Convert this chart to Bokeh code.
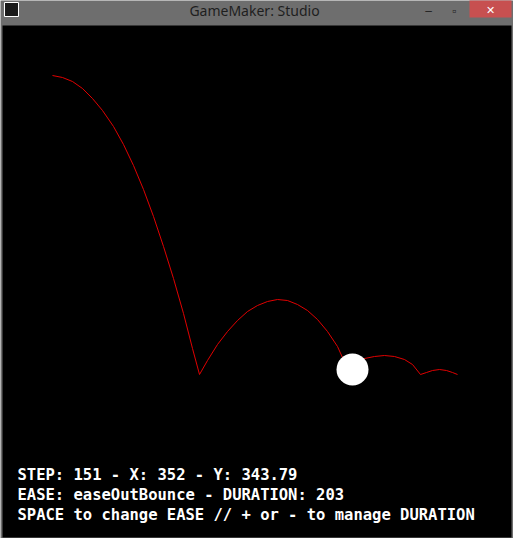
from bokeh.plotting import figure
from bokeh.models import Range1d
from bokeh.embed import file_html
from bokeh.resources import INLINE
from bokeh.core.properties import value

# Curve points (screen pixel coordinates)
curve_x = [60, 70, 80, 90, 100, 110, 121, 131, 141, 151, 161, 171, 181, 191, 200, 207,
           215, 225, 235, 245, 255, 265, 275, 285, 295, 305, 315, 325, 335, 345, 354,
           362, 372, 382, 392, 402, 412, 420, 428, 434, 440, 447, 454, 460, 465]
curve_y = [83, 85, 89, 96, 106, 118, 134, 152, 173, 197, 224, 254, 286, 321, 356, 382,
           368, 352, 339, 328, 319, 313, 309, 307, 308, 312, 318, 327, 339, 354, 374,
           369, 366, 364, 363, 364, 367, 372, 382, 380, 378, 377, 378, 380, 382]
ball = (360, 377)
hud_lines = ["STEP: 151 - X: 352 - Y: 343.79",
             "EASE: easeOutBounce - DURATION: 203",
             "SPACE to change EASE // + or - to manage DURATION"]
title = "GameMaker: Studio"

p = figure(width=513, height=538, output_backend="svg", toolbar_location=None,
           x_range=Range1d(8, 521), y_range=Range1d(546, 8), min_border=0)
p.axis.visible = False
p.grid.visible = False
p.outline_line_color = None
p.background_fill_color = "#6e6e6e"
p.border_fill_color = "#6e6e6e"

# window frame / canvas
p.quad(left=[10], right=[519], top=[33], bottom=[545], fill_color="black", line_color=None)
p.quad(left=[477], right=[519], top=[0], bottom=[25], fill_color="#c75050", line_color=None)
p.text(x=[498], y=[17], text=["✕"], text_color="white", text_align="center",
       text_baseline="middle", text_font_size="11px")
p.text(x=[436, 462], y=[18, 18], text=["–", "▫"], text_color="#222222", text_align="center",
       text_baseline="middle", text_font_size="12px")
p.quad(left=[12], right=[26], top=[10], bottom=[24], fill_color="#1a1a1a", line_color="white")
p.text(x=[262], y=[18], text=[title], text_color="#1e1e1e", text_align="center",
       text_baseline="middle", text_font=value("Noto Sans"), text_font_size="14px")

p.line(curve_x, curve_y, line_color="#e00000", line_width=1)
p.scatter([ball[0]], [ball[1]], size=32, fill_color="white", line_color=None)

p.text(x=[25, 25, 25], y=[482, 502, 522], text=hud_lines, text_color="white",
       text_baseline="middle", text_font=value("DejaVu Sans Mono"),
       text_font_size="15.5px", text_font_style="bold")

open("out.html", "w").write(file_html(p, INLINE))
